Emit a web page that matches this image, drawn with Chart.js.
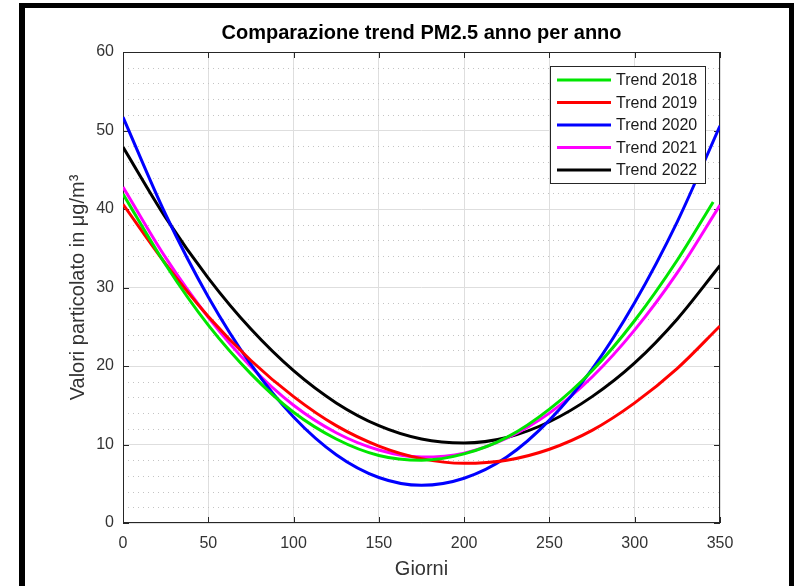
<!DOCTYPE html>
<html>
<head>
<meta charset="utf-8">
<script src="https://cdn.jsdelivr.net/npm/chart.js@4.4.1/dist/chart.umd.min.js"></script>
<style>
    html, body { margin: 0; padding: 0; background: #fff; overflow: hidden; }
    #wrap { position: relative; width: 795px; height: 586px; }
    #frame {
        position: absolute; left: 19px; top: 3px; width: 775px; height: 600px;
        box-sizing: border-box; border: 5px solid #000; border-left-width: 6px; border-bottom: none;
        pointer-events: none;
    }
</style>
</head>
<body>
<div id="wrap">
    <canvas id="trendChart" width="795" height="586"></canvas>
    <div id="frame"></div>
</div>
<script>
// --- Data ---

const giorni = [0, 25, 50, 75, 100, 125, 150, 175, 200, 225, 250, 275, 300, 325, 350];
const giorni2018 = [0, 25, 50, 75, 100, 125, 150, 175, 200, 225, 250, 275, 300, 325, 346];

const trend2018 = [41.9, 32.9, 25.2, 19.0, 14.1, 10.7, 8.6, 8.0, 8.8, 10.9, 14.5, 19.4, 25.8, 33.5, 40.9];
const trend2019 = [40.6, 33.0, 26.3, 20.7, 16.1, 12.4, 9.8, 8.2, 7.6, 8.0, 9.4, 11.8, 15.3, 19.7, 25.1];
const trend2020 = [51.7, 39.3, 28.8, 20.2, 13.5, 8.7, 5.8, 4.8, 5.7, 8.4, 13.1, 19.6, 28.1, 38.4, 50.6];
const trend2021 = [42.8, 33.8, 26.2, 19.9, 15.0, 11.5, 9.3, 8.4, 8.9, 10.8, 14.0, 18.6, 24.6, 31.9, 40.5];
const trend2022 = [47.9, 38.9, 31.2, 24.7, 19.4, 15.3, 12.4, 10.7, 10.2, 10.9, 12.9, 16.1, 20.4, 26.0, 32.8];

const xTicks = [0, 50, 100, 150, 200, 250, 300, 350];
const yTicks = [0, 10, 20, 30, 40, 50, 60];

const FONT = '"Liberation Sans", Arial, Helvetica, sans-serif';
const AXIS_COLOR = '#262626';

function toPoints(xs, ys) {
    return xs.map((x, i) => ({ x: x, y: ys[i] }));
}

function series(label, xs, ys, color) {
    return {
        label: label,
        data: toPoints(xs, ys),
        borderColor: color,
        backgroundColor: color,
        borderWidth: 3,
        pointRadius: 0,
        cubicInterpolationMode: 'monotone',
        fill: false
    };
}

// --- Plugins: MATLAB-like box, minor grid, inner ticks, legend ---

const axesBox = {
    id: 'axesBox',
    beforeDatasetsDraw(chart) {
        const { ctx, chartArea: a, scales: { x, y } } = chart;
        ctx.save();

        // dotted minor grid every 2 units
        ctx.strokeStyle = '#c4c4c4';
        ctx.lineWidth = 1;
        ctx.setLineDash([1, 4]);
        for (let v = y.min + 2; v < y.max; v += 2) {
            if (v % 10 === 0) continue;
            const py = Math.round(y.getPixelForValue(v)) + 0.5;
            ctx.beginPath();
            ctx.moveTo(a.left, py);
            ctx.lineTo(a.right, py);
            ctx.stroke();
        }
        ctx.setLineDash([]);

        // box
        ctx.strokeStyle = AXIS_COLOR;
        ctx.lineWidth = 1;
        ctx.strokeRect(a.left + 0.5, a.top + 0.5, a.right - a.left - 1, a.bottom - a.top - 1);

        // inner ticks
        const len = 6;
        ctx.beginPath();
        x.ticks.forEach(t => {
            const px = Math.round(x.getPixelForValue(t.value)) + 0.5;
            ctx.moveTo(px, a.bottom); ctx.lineTo(px, a.bottom - len);
            ctx.moveTo(px, a.top); ctx.lineTo(px, a.top + len);
        });
        y.ticks.forEach(t => {
            const py = Math.round(y.getPixelForValue(t.value)) + 0.5;
            ctx.moveTo(a.left, py); ctx.lineTo(a.left + len, py);
            ctx.moveTo(a.right, py); ctx.lineTo(a.right - len, py);
        });
        ctx.stroke();
        ctx.restore();
    }
};

const legendBox = {
    id: 'legendBox',
    afterDraw(chart) {
        const { ctx, chartArea: a } = chart;
        const w = 155, h = 117, rowH = 22.5;
        const bx = a.right - 15 - w;
        const by = a.top + 14;

        ctx.save();
        ctx.fillStyle = '#fff';
        ctx.fillRect(bx, by, w, h);
        ctx.strokeStyle = AXIS_COLOR;
        ctx.lineWidth = 1;
        ctx.strokeRect(bx + 0.5, by + 0.5, w, h);

        ctx.font = '16px ' + FONT;
        ctx.textBaseline = 'middle';
        ctx.textAlign = 'left';
        chart.data.datasets.forEach((ds, i) => {
            const cy = by + 14 + i * rowH;
            ctx.strokeStyle = ds.borderColor;
            ctx.lineWidth = 3;
            ctx.beginPath();
            ctx.moveTo(bx + 7, cy);
            ctx.lineTo(bx + 61, cy);
            ctx.stroke();
            ctx.fillStyle = '#1a1a1a';
            ctx.fillText(ds.label, bx + 66, cy + 1);
        });
        ctx.restore();
    }
};

// --- Chart ---

const ctx = document.getElementById('trendChart').getContext('2d');
new Chart(ctx, {
    type: 'line',
    data: {
        datasets: [
            series('Trend 2018', giorni2018, trend2018, '#00e600'),
            series('Trend 2019', giorni, trend2019, '#ff0000'),
            series('Trend 2020', giorni, trend2020, '#0000ff'),
            series('Trend 2021', giorni, trend2021, '#ff00ff'),
            series('Trend 2022', giorni, trend2022, '#000000')
        ]
    },
    options: {
        responsive: false,
        animation: false,
        devicePixelRatio: 1,
        layout: { padding: { left: 0, right: 75, top: 0, bottom: 0 } },
        plugins: {
            legend: { display: false },
            tooltip: { enabled: false },
            title: {
                display: true,
                fullSize: false,
                text: 'Comparazione trend PM2.5 anno per anno',
                color: '#000',
                font: { family: FONT, size: 20, weight: 'bold' },
                padding: { top: 21, bottom: 7 }
            }
        },
        scales: {
            x: {
                type: 'linear',
                min: 0,
                max: 350,
                afterBuildTicks: scale => { scale.ticks = xTicks.map(v => ({ value: v })); },
                afterFit: scale => { scale.height = 63; },
                ticks: { color: '#333', font: { family: FONT, size: 16 }, padding: 11, maxRotation: 0 },
                grid: { color: '#dedede', drawTicks: false },
                border: { display: false },
                title: {
                    display: true,
                    text: 'Giorni',
                    color: '#333',
                    font: { family: FONT, size: 20 },
                    padding: { top: 0, bottom: 5 }
                }
            },
            y: {
                min: 0,
                max: 60,
                afterBuildTicks: scale => { scale.ticks = yTicks.map(v => ({ value: v })); },
                afterFit: scale => { scale.width = 123; },
                ticks: { color: '#333', font: { family: FONT, size: 16 }, padding: 9 },
                grid: { color: '#dedede', drawTicks: false },
                border: { display: false },
                title: {
                    display: true,
                    text: 'Valori particolato in μg/m³',
                    color: '#333',
                    font: { family: FONT, size: 20 },
                    padding: { top: 66, bottom: 0 }
                }
            }
        }
    },
    plugins: [axesBox, legendBox]
});
</script>
</body>
</html>
